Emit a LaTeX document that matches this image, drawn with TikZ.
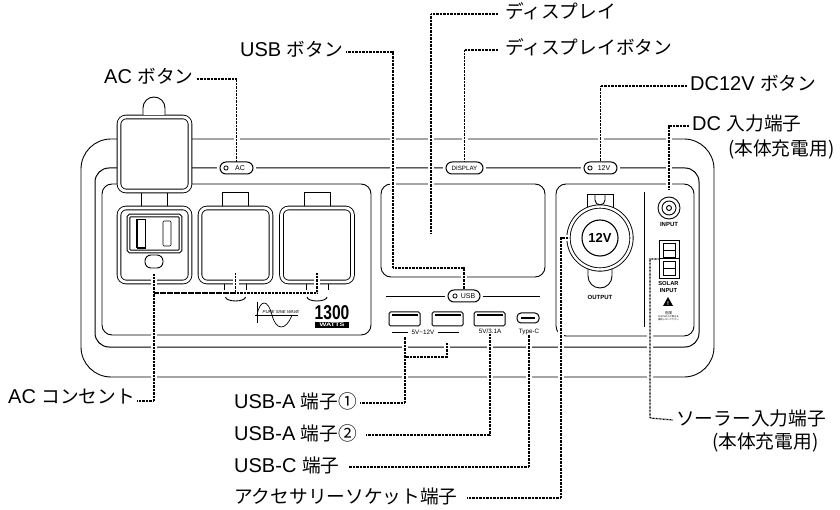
\documentclass[tikz,border=0pt]{standalone}
\usepackage{fontspec}
\setmainfont{Liberation Sans}
\newfontfamily\jp{Noto Sans CJK JP}
\newfontfamily\ltn[Scale=1.07]{Liberation Sans}
\usetikzlibrary{shapes.geometric,positioning,calc}
\tikzset{
	frameline/.style = {draw=black,line width=0.9pt},
	panel/.style     = {draw=black,line width=0.9pt,rounded corners=10pt},
	socket/.style    = {rectangle,draw=black,line width=0.9pt,double=white,double distance=2.8pt,
		rounded corners=7pt,minimum width=71pt,minimum height=74pt,inner sep=0pt},
	pill/.style      = {rectangle,rounded corners=6pt,draw=black,line width=1pt,fill=white,
		minimum height=12pt,inner sep=0pt,font=\fontsize{7}{8}\selectfont,
		preaction={draw=white,line width=6pt}},
	led/.style       = {circle,draw=black,line width=0.8pt,minimum size=4.2pt,inner sep=0pt},
	usbport/.style   = {rectangle,draw=black,line width=1pt,rounded corners=1.5pt,
		minimum width=31pt,minimum height=14pt,inner sep=0pt},
	tinytxt/.style   = {inner sep=0pt,font=\fontsize{6.3}{7}\selectfont},
	boldtxt/.style   = {inner sep=0pt,font=\fontsize{6}{7}\selectfont\bfseries},
	lbl/.style       = {anchor=west,inner sep=3pt,text height=13pt,text depth=3pt,
		font=\fontsize{18.7}{21}\selectfont\ltn},
	lead/.style      = {draw=black,line width=1.2pt,dash pattern=on 0.8pt off 0.6pt,
		preaction={draw=white,line width=6pt,solid}},
}
\begin{document}
\begin{tikzpicture}[x=1pt,y=-1pt]
	\useasboundingbox (0,0) rectangle (840,510);
	
	%% Frame
	\draw[frameline,rounded corners=30pt] (81,139) rectangle (714,377);
	\draw[frameline,line width=1pt,rounded corners=14pt] (95,168) rectangle (699,347);
	\draw[panel] (102,184) rectangle (371,335);
	\draw[panel] (381,184) rectangle (545,277);
	\draw[panel] (556,184) rectangle (694,336);
	\draw[line width=0.8pt] (644,192) -- (644,327);
	
	%% Pills
	\node (pillac)   [pill,minimum width=33pt] at (236.5,168) {\hspace*{7pt}AC};
	\node (pilldisp) [pill,minimum width=37pt,font=\fontsize{6.2}{7}\selectfont] at (464.5,168) {DISPLAY};
	\node (pill12v)  [pill,minimum width=33pt] at (600.5,168) {\hspace*{7pt}12V};
	\node (ledac)  [led] at (226,168) {};
	\node (led12v) [led] at (590,168) {};
	
	%% AC cover
	\node (cover) [socket,fill=white,minimum height=74pt] at (154.5,154) {};
	\draw[line width=0.9pt,fill=white] (143,115) -- (143,108) arc (180:360:11) -- (165,115);
	
	%% AC sockets
	\draw[line width=0.9pt] (141,193) -- (141,206) (167,193) -- (167,206);
	\node (sock1) [socket] at (154.5,245) {};
	\foreach \x/\nm in {235.5/sock2,317/sock3} {
		\draw[line width=0.9pt] (\x-13,206) -- (\x-13,192) -- (\x+13,192) -- (\x+13,206);
		\node (\nm) [socket] at (\x,245) {};
		\draw[line width=0.9pt,fill=white] (\x-11,284) -- (\x-11,290) (\x+11,290) -- (\x+11,284);
		\draw[line width=0.9pt] (\x-10,297) arc (180:0:10 and 4);
	}
	\node (switchbox) [rectangle,draw=black,line width=1pt,double=white,double distance=1.6pt,
		rounded corners=1.5pt,minimum width=52pt,minimum height=36pt,inner sep=0pt] at (154.5,233.5) {};
	\draw[line width=0.7pt] (137,219) rectangle (145,248);
	\draw[line width=1.4pt] (137,248) -- (145,248) (137,219) -- (137,248);
	\draw[line width=0.7pt,rounded corners=1pt] (163,221) rectangle (171,246);
	\node (acoval) [rectangle,draw=black,line width=0.9pt,rounded corners=6pt,
		minimum width=18pt,minimum height=13pt,inner sep=0pt] at (154,261.5) {};
	
	%% Logo
	\draw[line width=0.7pt] (257,302) -- (257,323) (255,315) -- (298,315);
	\draw[line width=0.7pt] (257,315) .. controls (260,299) and (268,299) .. (272,315)
		.. controls (276,331) and (286,331) .. (292,315);
	\node (sinetxt) [inner sep=0pt,font=\fontsize{4.3}{5}\selectfont\itshape] at (281,312) {PURE SINE WAVE};
	\node (watt1300) [inner sep=0pt,font=\fontsize{20}{22}\selectfont\bfseries] at (332,313) {\scalebox{0.78}[1]{1300}};
	\node (wattbox) [fill=black,text=white,minimum width=34pt,minimum height=5.4pt,inner sep=0pt,
		font=\fontsize{5.2}{5.4}\selectfont\bfseries] at (332,325) {\scalebox{1.4}[1]{WATTS}};
	
	%% USB row
	\draw[line width=0.9pt] (386,296) -- (540,296);
	\node (pillusb) [pill,minimum width=32pt] at (464,296) {\hspace*{8pt}USB};
	\node (ledusb)  [led] at (455,296) {};
	\foreach \x/\nm in {404.5/usba1,447.5/usba2,489.5/usba3} {
		\node (\nm) [usbport] at (\x,319) {};
		\fill (\x-13,314) rectangle (\x+13,316.2);
	}
	\node (usbc) [usbport,rounded corners=4pt,minimum width=22pt,minimum height=10pt] at (528,318) {};
	\draw[line width=1.3pt] (521,318) -- (535,318);
	\node (v512)  [tinytxt] at (423,332) {5V−12V};
	\node (v531)  [tinytxt] at (490,331.5) {5V/3.1A};
	\node (typec) [tinytxt] at (529,331.5) {Type-C};
	\draw[line width=0.7pt] (392,332) -- (408,332) (438,332) -- (459,332);
	
	%% 12V socket
	\draw[line width=0.9pt] (587,208) -- (587,194) -- (613,194) -- (613,208);
	\draw[line width=0.9pt] (595,194) -- (595,200) arc (180:0:5) -- (605,194);
	\draw[line width=0.9pt] (588,268) -- (588,276) arc (180:0:12) -- (612,268);
	\node (sock12v) [circle,draw=black,line width=0.9pt,double=white,double distance=2.4pt,
		minimum size=63pt,inner sep=0pt] at (600,238) {};
	\node (plug12v) [circle,draw=black,line width=1.1pt,minimum size=36pt,inner sep=0pt,
		font=\fontsize{13}{14}\selectfont\bfseries] at (600,238) {12V};
	\node (outputtxt) [boldtxt] at (600,297) {OUTPUT};
	
	%% Input jack, solar port
	\node (jack) [circle,draw=black,line width=0.9pt,minimum size=22pt,inner sep=0pt] at (669,208) {};
	\node (jack2) [circle,draw=black,line width=0.9pt,minimum size=14pt,inner sep=0pt] at (669,208) {};
	\node (jack3) [circle,draw=black,line width=0.9pt,minimum size=5pt,inner sep=0pt] at (669,208) {};
	\node (inputtxt) [boldtxt] at (669,224) {INPUT};
	\node (solarport) [rectangle,draw=black,line width=0.9pt,minimum width=20pt,minimum height=38pt,inner sep=0pt] at (669,259) {};
	\foreach \y in {243,261} {
		\draw[line width=0.7pt] (663,\y) rectangle (675,\y+14);
		\draw[line width=0.7pt] (663,\y+7) -- (675,\y+7);
	}
	\draw[line width=1pt] (659,259) -- (679,259);
	\node (solartxt) [boldtxt,font=\fontsize{5.8}{6.2}\selectfont\bfseries,align=center] at (668.5,287) {SOLAR\\INPUT};
	\node (warntri) [isosceles triangle,shape border rotate=90,fill=black,minimum height=9pt,
		minimum width=10pt,isosceles triangle stretches,inner sep=0pt] at (668,303) {};
	\node (warnmark) [inner sep=0pt,text=white,font=\fontsize{5.5}{6}\selectfont\bfseries] at (668,304) {!};
	\node (warntxt) [inner sep=0pt,align=center,font=\jp\fontsize{2.3}{3.2}\selectfont] at (668.5,316)
		{{\fontsize{3.5}{4}\selectfont 危険}\\DC50V以上の電圧を\\接続しないで下さい};
	
	%% Labels
	\node (lblacbtn)  [lbl] at (101,79)  {AC {\jp ボタン}};
	\node (lblusbbtn) [lbl] at (237,52)  {USB {\jp ボタン}};
	\node (lbldisp)   [lbl] at (502,14)  {\jp ディスプレイ};
	\node (lbldbtn)   [lbl] at (502,50)  {\jp ディスプレイボタン};
	\node (lbl12v)    [lbl] at (687,86)  {DC12V {\jp ボタン}};
	\node (lbldc)     [lbl] at (689,126) {DC {\jp 入力端子}};
	\node (lbldc2)    [lbl] at (725,151) {\jp (本体充電用)};
	\node (lblsolar)  [lbl] at (673,420) {\jp ソーラー入力端子};
	\node (lblsolar2) [lbl] at (709,443) {\jp (本体充電用)};
	\node (lblacout)  [lbl] at (5,398)   {AC {\jp コンセント}};
	\node (lblusba1)  [lbl] at (231,403) {USB-A {\jp 端子①}};
	\node (lblusba2)  [lbl] at (231,435) {USB-A {\jp 端子②}};
	\node (lblusbc)   [lbl] at (231,467) {USB-C {\jp 端子}};
	\node (lblacc)    [lbl] at (231,498) {\jp アクセサリーソケット端子};
	
	%% Leaders
	\coordinate (tipout1) at (154,274);
	\coordinate (tipout2) at (235.5,273);
	\coordinate (tipout3) at (317,273);
	\coordinate (joinout) at (154,293);
	\coordinate (turnout) at (137,401);
	\coordinate (turnusb) at (393,268);
	\coordinate (tipview) at (431,233);
	\coordinate (tipusba1) at (405,337);
	\coordinate (tipusba2) at (447,337);
	\coordinate (joinusba) at (405,357);
	\coordinate (turnacc) at (561,498);
	\coordinate (turnsolar) at (650,418);
	
	\draw[lead] (lblacbtn.east) -| (pillac.north);
	\draw[lead] (lblusbbtn.east) -| (turnusb) -| (pillusb.north);
	\draw[lead,shorten <=4pt] (lbldisp.west) -| (tipview);
	\draw[lead,shorten <=4pt] (lbldbtn.west) -| (pilldisp.north);
	\draw[lead] (lbl12v.west) -| (pill12v.north);
	\draw[lead,shorten >=7pt] (lbldc.west) -| (jack.north);
	\draw[lead] (solarport.west) -| (turnsolar) -- (lblsolar.west);
	\draw[lead,shorten >=6pt] (sock12v.west) -| (turnacc) -- (lblacc.east);
	\draw[lead] (tipout1) |- (turnout) (tipout2) |- (joinout) (tipout3) |- (joinout);
	\draw[lead,shorten <=6pt] (lblusba1.east) -| (tipusba1) (tipusba2) |- (joinusba);
	\draw[lead,shorten <=6pt] (lblusba2.east) -| (v531.south);
	\draw[lead,shorten <=6pt] (lblusbc.east) -| (typec.south);
\end{tikzpicture}
\end{document}
